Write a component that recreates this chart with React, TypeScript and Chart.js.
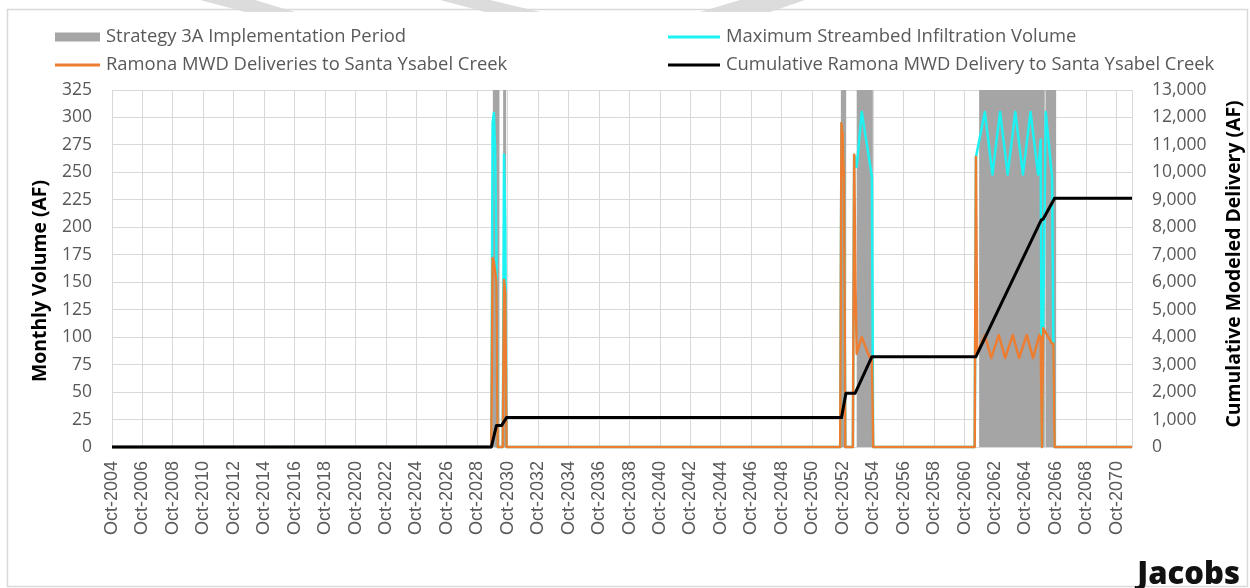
import React, { useEffect, useRef } from "react";
import { Chart, registerables } from "chart.js";

Chart.register(...registerables);

// ---------- Data (month index 0 = Oct-2004) ----------
const xTickLabels = [
  "Oct-2004", "Oct-2006", "Oct-2008", "Oct-2010", "Oct-2012", "Oct-2014",
  "Oct-2016", "Oct-2018", "Oct-2020", "Oct-2022", "Oct-2024", "Oct-2026",
  "Oct-2028", "Oct-2030", "Oct-2032", "Oct-2034", "Oct-2036", "Oct-2038",
  "Oct-2040", "Oct-2042", "Oct-2044", "Oct-2046", "Oct-2048", "Oct-2050",
  "Oct-2052", "Oct-2054", "Oct-2056", "Oct-2058", "Oct-2060", "Oct-2062",
  "Oct-2064", "Oct-2066", "Oct-2068", "Oct-2070",
];

const legendLabels = [
  "Strategy 3A Implementation Period",
  "Ramona MWD Deliveries to Santa Ysabel Creek",
  "Maximum Streambed Infiltration Volume",
  "Cumulative Ramona MWD Delivery to Santa Ysabel Creek",
];
const leftAxisTitle = "Monthly Volume (AF)";
const rightAxisTitle = "Cumulative Modeled Delivery (AF)";
const logoText = "Jacobs";

// Strategy 3A implementation periods (start / end, in months)
const implStartMonth = [300.2, 308.3, 574.5, 587.0, 683.5, 735.8];
const implEndMonth = [305.4, 310.7, 578.7, 599.7, 735.2, 744.2];
const implLevel = 325;

// Ramona MWD deliveries (AF / month)
const deliveryMonths = [
  0, 299, 300, 301, 302, 303, 304, 308, 309, 310, 311,
  574, 575, 576, 577, 578, 584, 585, 586, 587, 591, 597, 599, 600,
  680, 681, 682, 688, 693, 699, 704, 710, 715, 721, 726, 731, 732, 733, 734, 741, 742, 743, 804,
];
const deliveryValues = [
  0, 0, 172, 168, 160, 150, 0, 0, 152, 140, 0,
  0, 295, 285, 240, 0, 0, 266, 150, 85, 100, 82, 82, 0,
  0, 264, 85, 102, 81, 102, 81, 102, 81, 102, 81, 102, 100, 0, 108, 94, 94, 0, 0,
];

// Maximum streambed infiltration volume (AF / month)
const infiltrationMonths = [
  0, 299, 300, 301, 302, 303, 304, 308, 309, 310, 311,
  574, 575, 576, 577, 578, 584, 585, 587, 591, 599, 600,
  680, 681, 688, 694, 700, 706, 712, 718, 724, 730, 732, 733, 734, 736, 741, 742, 743, 804,
];
const infiltrationValues = [
  0, 0, 295, 304, 270, 180, 0, 0, 266, 200, 0,
  0, 295, 285, 240, 0, 0, 266, 255, 305, 246, 0,
  0, 264, 305, 248, 305, 248, 305, 248, 305, 248, 280, 0, 108, 305, 246, 95, 0, 0,
];

// Cumulative delivery (AF)
const cumulativeMonths = [0, 299, 303, 307, 311, 575, 578.5, 585.7, 599, 681, 732.5, 734, 743, 804];
const cumulativeValues = [0, 0, 780, 780, 1070, 1070, 1955, 1955, 3290, 3290, 8267, 8300, 9060, 9060];

// ---------- Styles ----------
const implColor = "#A5A5A5";
const deliveryColor = "#ED7D31";
const infiltrationColor = "#1DF2F2";
const cumulativeColor = "#000000";
const gridColor = "#D9D9D9";
const tickColor = "#595959";
const FONT = '"Open Sans", "DejaVu Sans", sans-serif';

const toPoints = (xs: number[], ys: number[]) => xs.map((x, i) => ({ x, y: ys[i] }));

const implPoints = (() => {
  const pts: { x: number; y: number }[] = [{ x: 0, y: 0 }];
  implStartMonth.forEach((s, i) => {
    const e = implEndMonth[i];
    pts.push({ x: s, y: 0 }, { x: s, y: implLevel }, { x: e, y: implLevel }, { x: e, y: 0 });
  });
  pts.push({ x: 804, y: 0 });
  return pts;
})();

const decorPlugin = {
  id: "decor",
  beforeDraw(chart: any) {
    const ctx = chart.ctx as CanvasRenderingContext2D;
    ctx.save();
    ctx.fillStyle = "#ffffff";
    ctx.fillRect(0, 0, chart.width, chart.height);
    // watermark fragments at the top edge
    ctx.fillStyle = "#DCDCDC";
    const shapes = [
      [[200, 0], [255, 0], [295, 12], [245, 12]],
      [[440, 0], [490, 0], [540, 12], [485, 12]],
      [[740, 0], [805, 0], [770, 12], [700, 12]],
    ];
    shapes.forEach((p) => {
      ctx.beginPath();
      ctx.moveTo(p[0][0], p[0][1]);
      for (let i = 1; i < p.length; i++) ctx.lineTo(p[i][0], p[i][1]);
      ctx.closePath();
      ctx.fill();
    });
    // frame
    ctx.strokeStyle = "#D9D9D9";
    ctx.lineWidth = 1.5;
    ctx.strokeRect(7.5, 9.5, 1240, 577);
    ctx.restore();
  },
  afterDraw(chart: any) {
    const ctx = chart.ctx as CanvasRenderingContext2D;
    ctx.save();
    // legend
    ctx.font = `18.4px ${FONT}`;
    ctx.textBaseline = "middle";
    ctx.textAlign = "left";
    const items = [
      { label: legendLabels[0], color: implColor, kind: "box", x: 55, y: 37 },
      { label: legendLabels[1], color: deliveryColor, kind: "line", x: 55, y: 65 },
      { label: legendLabels[2], color: infiltrationColor, kind: "line", x: 668, y: 37 },
      { label: legendLabels[3], color: cumulativeColor, kind: "line", x: 668, y: 65 },
    ];
    items.forEach((it) => {
      const w = it.x < 300 ? 45 : 52;
      if (it.kind === "box") {
        ctx.fillStyle = it.color;
        ctx.fillRect(it.x, it.y - 4.5, w, 9);
      } else {
        ctx.strokeStyle = it.color;
        ctx.lineWidth = 3;
        ctx.beginPath();
        ctx.moveTo(it.x, it.y);
        ctx.lineTo(it.x + w, it.y);
        ctx.stroke();
      }
      ctx.fillStyle = tickColor;
      ctx.fillText(it.label, it.x + w + 6, it.y);
    });
    // axis titles
    ctx.fillStyle = "#000000";
    ctx.font = `bold 19.4px ${FONT}`;
    ctx.textAlign = "center";
    ctx.save();
    ctx.translate(40, 281);
    ctx.rotate(-Math.PI / 2);
    ctx.fillText(leftAxisTitle, 0, 0);
    ctx.restore();
    ctx.save();
    ctx.translate(1234, 264);
    ctx.rotate(-Math.PI / 2);
    ctx.fillText(rightAxisTitle, 0, 0);
    ctx.restore();
    // logo
    ctx.font = `800 31px ${FONT}`;
    ctx.textAlign = "right";
    ctx.textBaseline = "alphabetic";
    ctx.fillStyle = "#111111";
    ctx.fillText(logoText, 1240, 584);
    ctx.restore();
  },
};

export default function App() {
  const ref = useRef<HTMLCanvasElement>(null);
  useEffect(() => {
    const canvas = ref.current!;
    const chart = new Chart(canvas, {
      type: "line",
      data: {
        datasets: [
          {
            label: legendLabels[3],
            data: toPoints(cumulativeMonths, cumulativeValues),
            yAxisID: "y1",
            borderColor: cumulativeColor,
            borderWidth: 3,
            pointRadius: 0,
            fill: false,
            order: 0,
            clip: false,
            borderJoinStyle: "round",
          },
          {
            label: legendLabels[1],
            data: toPoints(deliveryMonths, deliveryValues),
            yAxisID: "y",
            borderColor: deliveryColor,
            borderWidth: 2.5,
            pointRadius: 0,
            fill: false,
            order: 1,
            clip: false,
            borderJoinStyle: "round",
          },
          {
            label: legendLabels[2],
            data: toPoints(infiltrationMonths, infiltrationValues),
            yAxisID: "y",
            borderColor: infiltrationColor,
            borderWidth: 2.5,
            pointRadius: 0,
            fill: false,
            order: 2,
            clip: false,
            borderJoinStyle: "round",
          },
          {
            label: legendLabels[0],
            data: implPoints,
            yAxisID: "y",
            borderColor: "rgba(0,0,0,0)",
            borderWidth: 0,
            backgroundColor: implColor,
            pointRadius: 0,
            fill: "origin",
            order: 3,
          },
        ],
      },
      options: {
        animation: false,
        responsive: false,
        devicePixelRatio: 1,
        layout: { padding: { top: 90, left: 0, right: 0, bottom: 0 } },
        plugins: {
          legend: { display: false },
          tooltip: { enabled: false },
        },
        scales: {
          x: {
            type: "linear",
            min: 0,
            max: 804,
            afterFit: (s: any) => { s.height = 141; },
            grid: { color: gridColor, lineWidth: 1, drawTicks: false },
            border: { color: gridColor },
            ticks: {
              stepSize: 24,
              autoSkip: false,
              includeBounds: false,
              minRotation: 90,
              maxRotation: 90,
              padding: 14,
              color: tickColor,
              font: { family: '"Liberation Sans", Arial, sans-serif', size: 18 },
              callback: (v: any) => xTickLabels[Math.round(Number(v) / 24)] ?? "",
            },
          },
          y: {
            position: "left",
            min: 0,
            max: 325,
            afterFit: (s: any) => { s.width = 112; },
            grid: { color: gridColor, lineWidth: 1, drawTicks: false },
            border: { color: gridColor },
            ticks: {
              stepSize: 25,
              padding: 20,
              color: tickColor,
              font: { family: FONT, size: 17.5 },
            },
          },
          y1: {
            position: "right",
            min: 0,
            max: 13000,
            afterFit: (s: any) => { s.width = 118; },
            grid: { display: false, drawTicks: false },
            border: { color: gridColor },
            ticks: {
              stepSize: 1000,
              padding: 20,
              color: tickColor,
              font: { family: FONT, size: 17.5 },
              callback: (v: any) => Number(v).toLocaleString("en-US"),
            },
          },
        },
      },
      plugins: [decorPlugin],
    } as any);
    return () => chart.destroy();
  }, []);
  return (
    <div style={{ position: "absolute", left: 0, top: 0, width: 1250, height: 588, background: "#fff" }}>
      <canvas ref={ref} width={1250} height={588} style={{ display: "block", width: 1250, height: 588 }} />
    </div>
  );
}
